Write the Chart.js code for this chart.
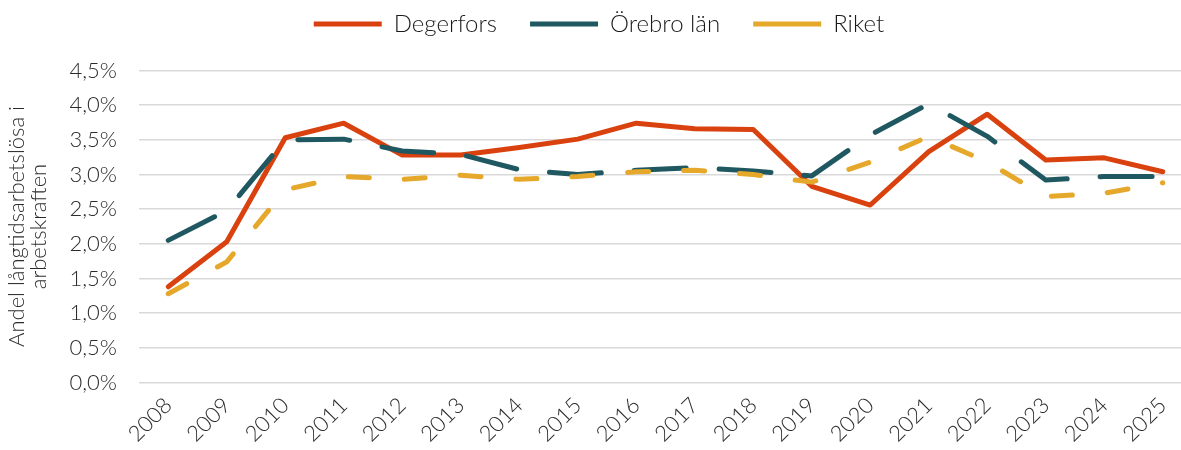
<!DOCTYPE html>
<html>
<head>
<meta charset="utf-8">
<script src="https://cdn.jsdelivr.net/npm/chart.js@4"></script>
<style>
  html, body { margin: 0; padding: 0; overflow: hidden; background: #fff; }
  #wrap { width: 1192px; height: 450px; }
</style>
</head>
<body>
<div id="wrap"><canvas id="chart"></canvas></div>
<script>
const years = ['2008','2009','2010','2011','2012','2013','2014','2015','2016','2017','2018','2019','2020','2021','2022','2023','2024','2025'];
const degerfors = [1.38, 2.03, 3.53, 3.74, 3.28, 3.28, 3.39, 3.51, 3.74, 3.66, 3.65, 2.83, 2.56, 3.33, 3.87, 3.21, 3.24, 3.04];
const orebroLan = [2.05, 2.48, 3.5, 3.51, 3.34, 3.29, 3.07, 3.0, 3.06, 3.1, 3.05, 2.98, 3.57, 4.02, 3.55, 2.92, 2.97, 2.97];
const riket = [1.28, 1.74, 2.78, 2.97, 2.93, 2.99, 2.93, 2.97, 3.04, 3.06, 3.0, 2.89, 3.18, 3.55, 3.18, 2.68, 2.73, 2.88];
const yTitle = ['Andel långtidsarbetslösa i', 'arbetskraften'];

const fontFamily = 'Lato, "Open Sans", sans-serif';
const textColor = '#2b2b2b';

// legend padding is also used vertically, so fix the legend height by hand
const legendHeight = {
  id: 'legendHeight',
  beforeInit(chart) {
    const fit = chart.legend.fit;
    chart.legend.fit = function () {
      fit.bind(chart.legend)();
      this.height = 91.5;
    };
  }
};

new Chart(document.getElementById('chart').getContext('2d'), {
  type: 'line',
  data: {
    labels: years,
    datasets: [
      {
        label: 'Degerfors',
        data: degerfors,
        borderColor: '#D9410E',
        backgroundColor: '#D9410E',
        borderWidth: 5,
        borderCapStyle: 'round',
        borderJoinStyle: 'round',
        order: 3
      },
      {
        label: 'Örebro län',
        data: orebroLan,
        borderColor: '#1F5860',
        backgroundColor: '#1F5860',
        borderWidth: 5,
        borderDash: [52, 33],
        borderCapStyle: 'round',
        borderJoinStyle: 'round',
        order: 2
      },
      {
        label: 'Riket',
        data: riket,
        borderColor: '#E5A82A',
        backgroundColor: '#E5A82A',
        borderWidth: 5,
        borderDash: [21, 35],
        borderCapStyle: 'round',
        borderJoinStyle: 'round',
        order: 1
      }
    ]
  },
  options: {
    responsive: true,
    maintainAspectRatio: false,
    animation: false,
    layout: { padding: { top: -21, left: 6, right: 0, bottom: 0 } },
    elements: { point: { radius: 0 }, line: { tension: 0 } },
    plugins: {
      legend: {
        position: 'top',
        labels: {
          usePointStyle: true,
          pointStyle: 'line',
          pointStyleWidth: 68,
          boxWidth: 68,
          padding: 33,
          color: '#1a1a1a',
          font: { family: fontFamily, size: 24, weight: '300' },
          sort: (a, b) => a.datasetIndex - b.datasetIndex
        }
      },
      tooltip: { enabled: false }
    },
    scales: {
      x: {
        offset: true,
        grid: { display: false },
        border: { display: false },
        ticks: {
          color: textColor,
          font: { family: fontFamily, size: 22, weight: '300' },
          minRotation: 45,
          maxRotation: 45,
          padding: 2
        },
        afterFit(scale) { scale.height = 67.5; }
      },
      y: {
        min: 0,
        max: 4.5,
        border: { display: false },
        grid: { color: '#d9d9d9', lineWidth: 1.5, drawTicks: false },
        ticks: {
          stepSize: 0.5,
          color: textColor,
          padding: 22,
          font: { family: fontFamily, size: 22, weight: '300' },
          callback: v => v.toFixed(1).replace('.', ',') + '%'
        },
        title: {
          display: true,
          text: yTitle,
          color: textColor,
          font: { family: fontFamily, size: 22, weight: '300', lineHeight: 1.0 },
          padding: 0
        },
        afterFit(scale) { scale.width = 133; }
      }
    }
  },
  plugins: [legendHeight]
});
</script>
</body>
</html>
